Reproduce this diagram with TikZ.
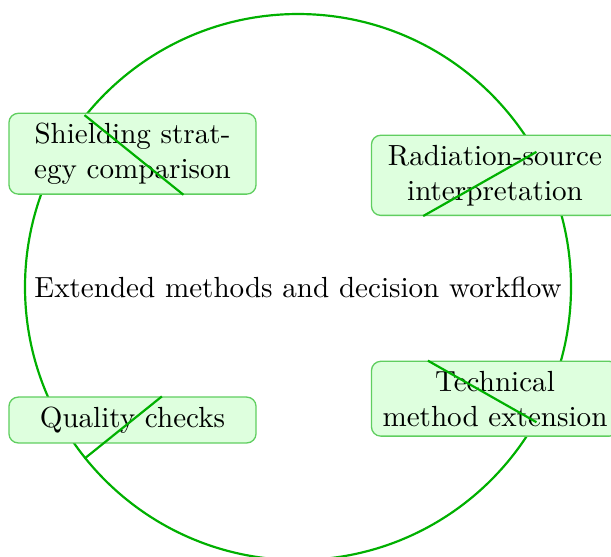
\documentclass[tikz,border=0pt]{standalone}
\definecolor{ringgreen}{RGB}{0,176,0}
\definecolor{boxedge}{RGB}{96,206,96}
\definecolor{boxfill}{RGB}{222,255,222}
\begin{document}
\begin{tikzpicture}[x=0.3436pt, y=-0.3436pt,
  hub/.style={circle, draw=ringgreen, line width=0.75pt, minimum size=187.6pt, inner sep=0pt},
  topic/.style={draw=boxedge, fill=boxfill, line width=0.45pt, rounded corners=3.2pt,
                text width=77.3pt, align=center, inner xsep=3.8pt, inner ysep=3.33pt},
  link/.style={draw=ringgreen, line width=0.75pt}]
  \useasboundingbox (0,0) rectangle (611,556);
  % central ring
  \node[hub] (core) at (298,287) {Extended methods and decision workflow};
  % satellite topics
  \node[topic] (shield) at (132.5,153.7) {Shielding strategy comparison};
  \node[topic] (radsrc) at (495,175.3) {Radiation-source interpretation};
  \node[topic] (techext) at (495,398.7) {Technical method extension};
  \node[topic] (qual) at (132.5,420) {Quality checks};
  % spokes
  \draw[link] (core) -- (shield);
  \draw[link] (core) -- (radsrc);
  \draw[link] (core) -- (techext);
  \draw[link] (core) -- (qual);
\end{tikzpicture}
\end{document}
